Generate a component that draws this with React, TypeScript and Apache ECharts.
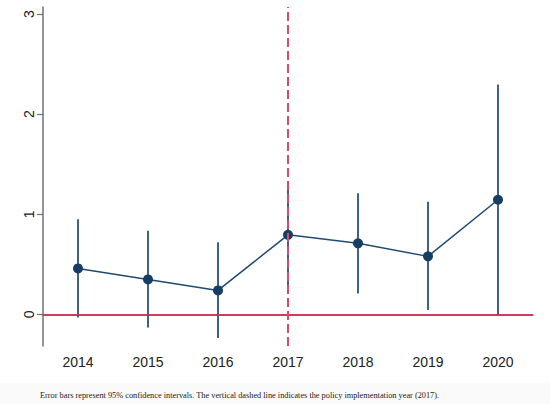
import React, { useEffect, useRef } from "react";
import * as echarts from "echarts";

const years = ["2014", "2015", "2016", "2017", "2018", "2019", "2020"];
const estimates = [0.46, 0.35, 0.24, 0.795, 0.71, 0.58, 1.145];
const ciLower = [-0.03, -0.13, -0.235, 0.285, 0.21, 0.045, -0.005];
const ciUpper = [0.95, 0.835, 0.72, 1.295, 1.21, 1.125, 2.295];
const yTicks = [0, 1, 2, 3];
const policyYear = "2017";
const caption =
  "Error bars represent 95% confidence intervals. The vertical dashed line indicates the policy implementation year (2017).";

export default function App() {
  const ref = useRef<HTMLDivElement>(null);
  useEffect(() => {
    document.body.style.margin = "0";
    if (!ref.current) return;
    const chart = echarts.init(ref.current, null, { renderer: "svg" });
    const errData = years.map((_, i) => [i, ciLower[i], ciUpper[i]]);
    chart.setOption({
      animation: false,
      backgroundColor: "#ffffff",
      grid: { left: 43, right: 17, top: 7, bottom: 58 },
      xAxis: {
        type: "category",
        data: years,
        boundaryGap: true,
        axisLine: { lineStyle: { color: "#707070", width: 1.5 } },
        axisTick: { alignWithLabel: true, length: 6, lineStyle: { color: "#707070", width: 1.2 } },
        axisLabel: { fontSize: 14, color: "#222222", margin: 9, fontFamily: "Liberation Sans" },
        splitLine: { show: false },
      },
      yAxis: {
        type: "value",
        min: -0.315,
        max: 3.07,
        axisLine: { show: true, lineStyle: { color: "#707070", width: 1.5 } },
        axisTick: { show: true, customValues: yTicks, length: 6, lineStyle: { color: "#707070", width: 1.2 } },
        axisLabel: {
          customValues: yTicks,
          rotate: 90,
          fontSize: 14,
          color: "#222222",
          margin: 7,
          fontFamily: "Liberation Sans",
        },
        splitLine: { show: false },
      },
      graphic: [
        { type: "rect", shape: { x: 0, y: 383, width: 550, height: 21 }, style: { fill: "#fafafa" }, z: -1 },
        {
          type: "text",
          x: 40,
          y: 395,
          style: {
            text: caption,
            font: '8.3px "Liberation Serif"',
            fill: "#222222",
            textVerticalAlign: "middle",
          },
        },
      ],
      series: [
        {
          type: "line",
          data: [],
          markLine: {
            silent: true,
            symbol: "none",
            label: { show: false },
            data: [{ yAxis: 0, lineStyle: { color: "#d8244a", width: 1.5, type: "solid" } }],
          },
          z: 1,
        },
        {
          type: "line",
          data: [],
          markLine: {
            silent: true,
            symbol: "none",
            label: { show: false },
            data: [{ xAxis: policyYear, lineStyle: { color: "#d94a6e", width: 2, type: [9, 4] } }],
          },
          z: 2,
        },
        {
          type: "custom",
          data: errData,
          z: 3,
          renderItem: (params: any, api: any) => {
            const i = api.value(0);
            const lo = api.coord([i, api.value(1)]);
            const hi = api.coord([i, api.value(2)]);
            return {
              type: "line",
              shape: { x1: lo[0], y1: lo[1], x2: hi[0], y2: hi[1] },
              style: { stroke: "#3d6389", lineWidth: 2 },
            };
          },
        },
        {
          type: "line",
          data: estimates,
          z: 4,
          symbol: "circle",
          symbolSize: 10,
          lineStyle: { color: "#1f4a73", width: 1.5 },
          itemStyle: { color: "#163d63" },
        },
      ],
    });
    return () => chart.dispose();
  }, []);
  return <div ref={ref} style={{ width: 550, height: 404 }} />;
}
